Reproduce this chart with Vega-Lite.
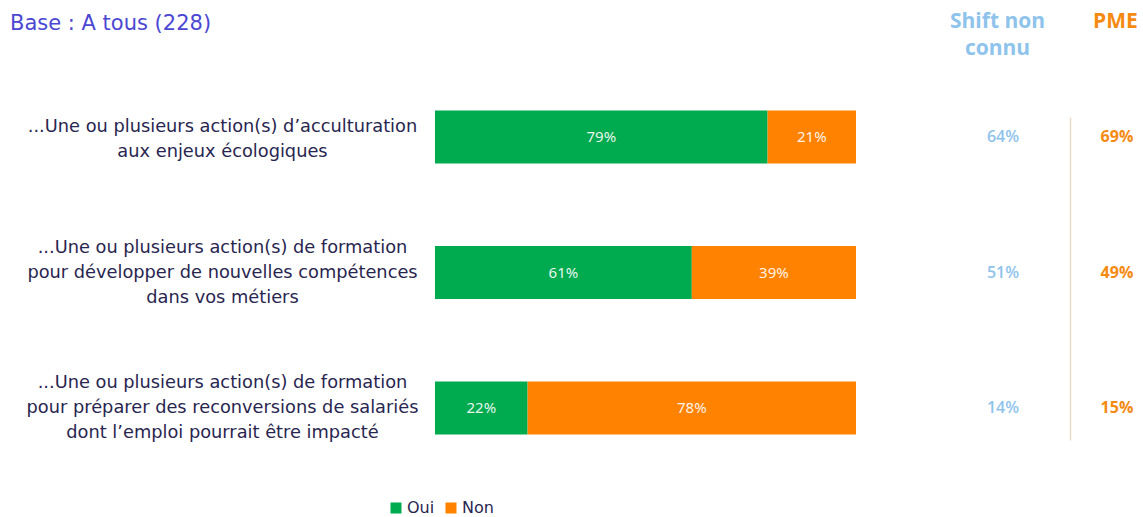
{
  "$schema": "https://vega.github.io/schema/vega-lite/v6.json",
  "autosize": {"type": "pad"},
  "padding": {"left": 10, "top": 10, "right": 0, "bottom": 0},
  "bounds": "flush",
  "spacing": 0,
  "background": "white",
  "datasets": {
    "bars": [
      {"q": "...Une ou plusieurs action(s) d’acculturation\naux enjeux écologiques", "answer": "Oui", "value": 0.79},
      {"q": "...Une ou plusieurs action(s) d’acculturation\naux enjeux écologiques", "answer": "Non", "value": 0.21},
      {"q": "...Une ou plusieurs action(s) de formation\npour développer de nouvelles compétences\ndans vos métiers", "answer": "Oui", "value": 0.61},
      {"q": "...Une ou plusieurs action(s) de formation\npour développer de nouvelles compétences\ndans vos métiers", "answer": "Non", "value": 0.39},
      {"q": "...Une ou plusieurs action(s) de formation\npour préparer des reconversions de salariés\ndont l’emploi pourrait être impacté", "answer": "Oui", "value": 0.22},
      {"q": "...Une ou plusieurs action(s) de formation\npour préparer des reconversions de salariés\ndont l’emploi pourrait être impacté", "answer": "Non", "value": 0.78}
    ],
    "side": [
      {"q": "...Une ou plusieurs action(s) d’acculturation\naux enjeux écologiques", "shift": 0.64, "pme": 0.69},
      {"q": "...Une ou plusieurs action(s) de formation\npour développer de nouvelles compétences\ndans vos métiers", "shift": 0.51, "pme": 0.49},
      {"q": "...Une ou plusieurs action(s) de formation\npour préparer des reconversions de salariés\ndont l’emploi pourrait être impacté", "shift": 0.14, "pme": 0.15}
    ]
  },
  "hconcat": [
    {
      "width": 425,
      "height": 323,
      "title": {"text": "Base : A tous (228)", "anchor": "start", "orient": "top", "offset": 72, "baseline": "middle", "fontSize": 21, "fontWeight": "normal", "font": "DejaVu Sans", "color": "#4b47d3"},
      "data": {"name": "side"},
      "layer": [
        {
          "transform": [{"filter": "length(split(datum.q, '\\n')) == 2"}],
          "mark": {"type": "text", "lineBreak": "\n", "align": "center", "baseline": "middle", "dy": -10, "fontSize": 17.8, "lineHeight": 25, "font": "DejaVu Sans", "color": "#28264f"},
          "encoding": {
            "y": {"field": "q", "type": "nominal", "sort": null, "axis": null, "scale": {"type": "point", "padding": 0.192, "align": 0.385}},
            "text": {"field": "q", "type": "nominal"}
          }
        },
        {
          "transform": [{"filter": "length(split(datum.q, '\\n')) == 3"}],
          "mark": {"type": "text", "lineBreak": "\n", "align": "center", "baseline": "middle", "dy": -25, "fontSize": 17.8, "lineHeight": 25, "font": "DejaVu Sans", "color": "#28264f"},
          "encoding": {
            "y": {"field": "q", "type": "nominal", "sort": null, "axis": null, "scale": {"type": "point", "padding": 0.192, "align": 0.385}},
            "text": {"field": "q", "type": "nominal"}
          }
        }
      ]
    },
    {
      "width": 421,
      "height": 323,
      "data": {"name": "bars"},
      "layer": [
        {
          "mark": {"type": "bar", "height": 53},
          "encoding": {
            "y": {"field": "q", "type": "nominal", "sort": null, "axis": null, "scale": {"type": "point", "padding": 0.192, "align": 0.385}},
            "x": {"field": "value", "type": "quantitative", "stack": "zero", "axis": null, "scale": {"domain": [0, 1], "nice": false}},
            "color": {"field": "answer", "type": "nominal", "sort": ["Oui", "Non"], "scale": {"domain": ["Oui", "Non"], "range": ["#00aa4f", "#ff8200"]},
              "legend": {"title": null, "orient": "none", "legendX": -47, "legendY": 383, "direction": "horizontal", "symbolType": "square", "symbolSize": 121, "symbolStrokeWidth": 0, "labelFontSize": 16, "labelFont": "DejaVu Sans", "labelColor": "#28264f", "columnPadding": 8, "labelOffset": 3}},
            "order": {"field": "answer", "sort": "descending"}
          }
        },
        {
          "mark": {"type": "text", "color": "white", "opacity": 0.9, "fontSize": 15, "font": "Noto Sans", "baseline": "middle", "align": "center"},
          "encoding": {
            "y": {"field": "q", "type": "nominal", "sort": null, "axis": null, "scale": {"type": "point", "padding": 0.192, "align": 0.385}},
            "x": {"field": "value", "type": "quantitative", "stack": "zero", "bandPosition": 0.5},
            "order": {"field": "answer", "sort": "descending"},
            "detail": {"field": "answer"},
            "text": {"field": "value", "type": "quantitative", "format": ".0%"}
          }
        }
      ]
    },
    {
      "width": 214,
      "height": 323,
      "data": {"name": "side"},
      "mark": {"type": "text", "color": "#8ec3ec", "fontSize": 16, "fontWeight": 600, "font": "Open Sans", "baseline": "middle", "align": "center", "dx": 6},
      "encoding": {
        "y": {"field": "q", "type": "nominal", "sort": null, "axis": null, "scale": {"type": "point", "padding": 0.192, "align": 0.385}},
        "x": {"datum": "Shift non connu", "type": "nominal", "scale": {"type": "point", "align": 0.659, "padding": 0.5},
          "axis": {"orient": "top", "title": null, "domain": false, "ticks": false, "tickSize": 0, "labelPadding": 107, "labelBaseline": "top", "labelAngle": 0,
            "labelExpr": "['Shift non', 'connu']", "labelLineHeight": 27, "labelFontSize": 21, "labelFontWeight": "bold", "labelFont": "Open Sans", "labelColor": "#8ec3ec"}},
        "text": {"field": "shift", "type": "quantitative", "format": ".0%"}
      }
    },
    {
      "width": 73,
      "height": 323,
      "data": {"name": "side"},
      "mark": {"type": "text", "color": "#f58a12", "fontSize": 16, "fontWeight": "bold", "font": "Open Sans", "baseline": "middle", "align": "center", "dx": 2},
      "encoding": {
        "y": {"field": "q", "type": "nominal", "sort": null, "scale": {"type": "point", "padding": 0.192, "align": 0.385},
          "axis": {"orient": "left", "title": null, "labels": false, "ticks": false, "grid": false, "domain": true, "domainColor": "#eadbc4", "domainWidth": 1.5}},
        "x": {"datum": "PME", "type": "nominal", "scale": {"type": "point", "align": 0.616, "padding": 0.5},
          "axis": {"orient": "top", "title": null, "domain": false, "ticks": false, "tickSize": 0, "labelPadding": 107, "labelBaseline": "top", "labelAngle": 0,
            "labelFontSize": 21, "labelFontWeight": "bold", "labelFont": "Open Sans", "labelColor": "#f58a12"}},
        "text": {"field": "pme", "type": "quantitative", "format": ".0%"}
      }
    }
  ],
  "resolve": {"scale": {"y": "shared", "x": "independent", "color": "independent"}},
  "config": {"view": {"stroke": null}}
}
